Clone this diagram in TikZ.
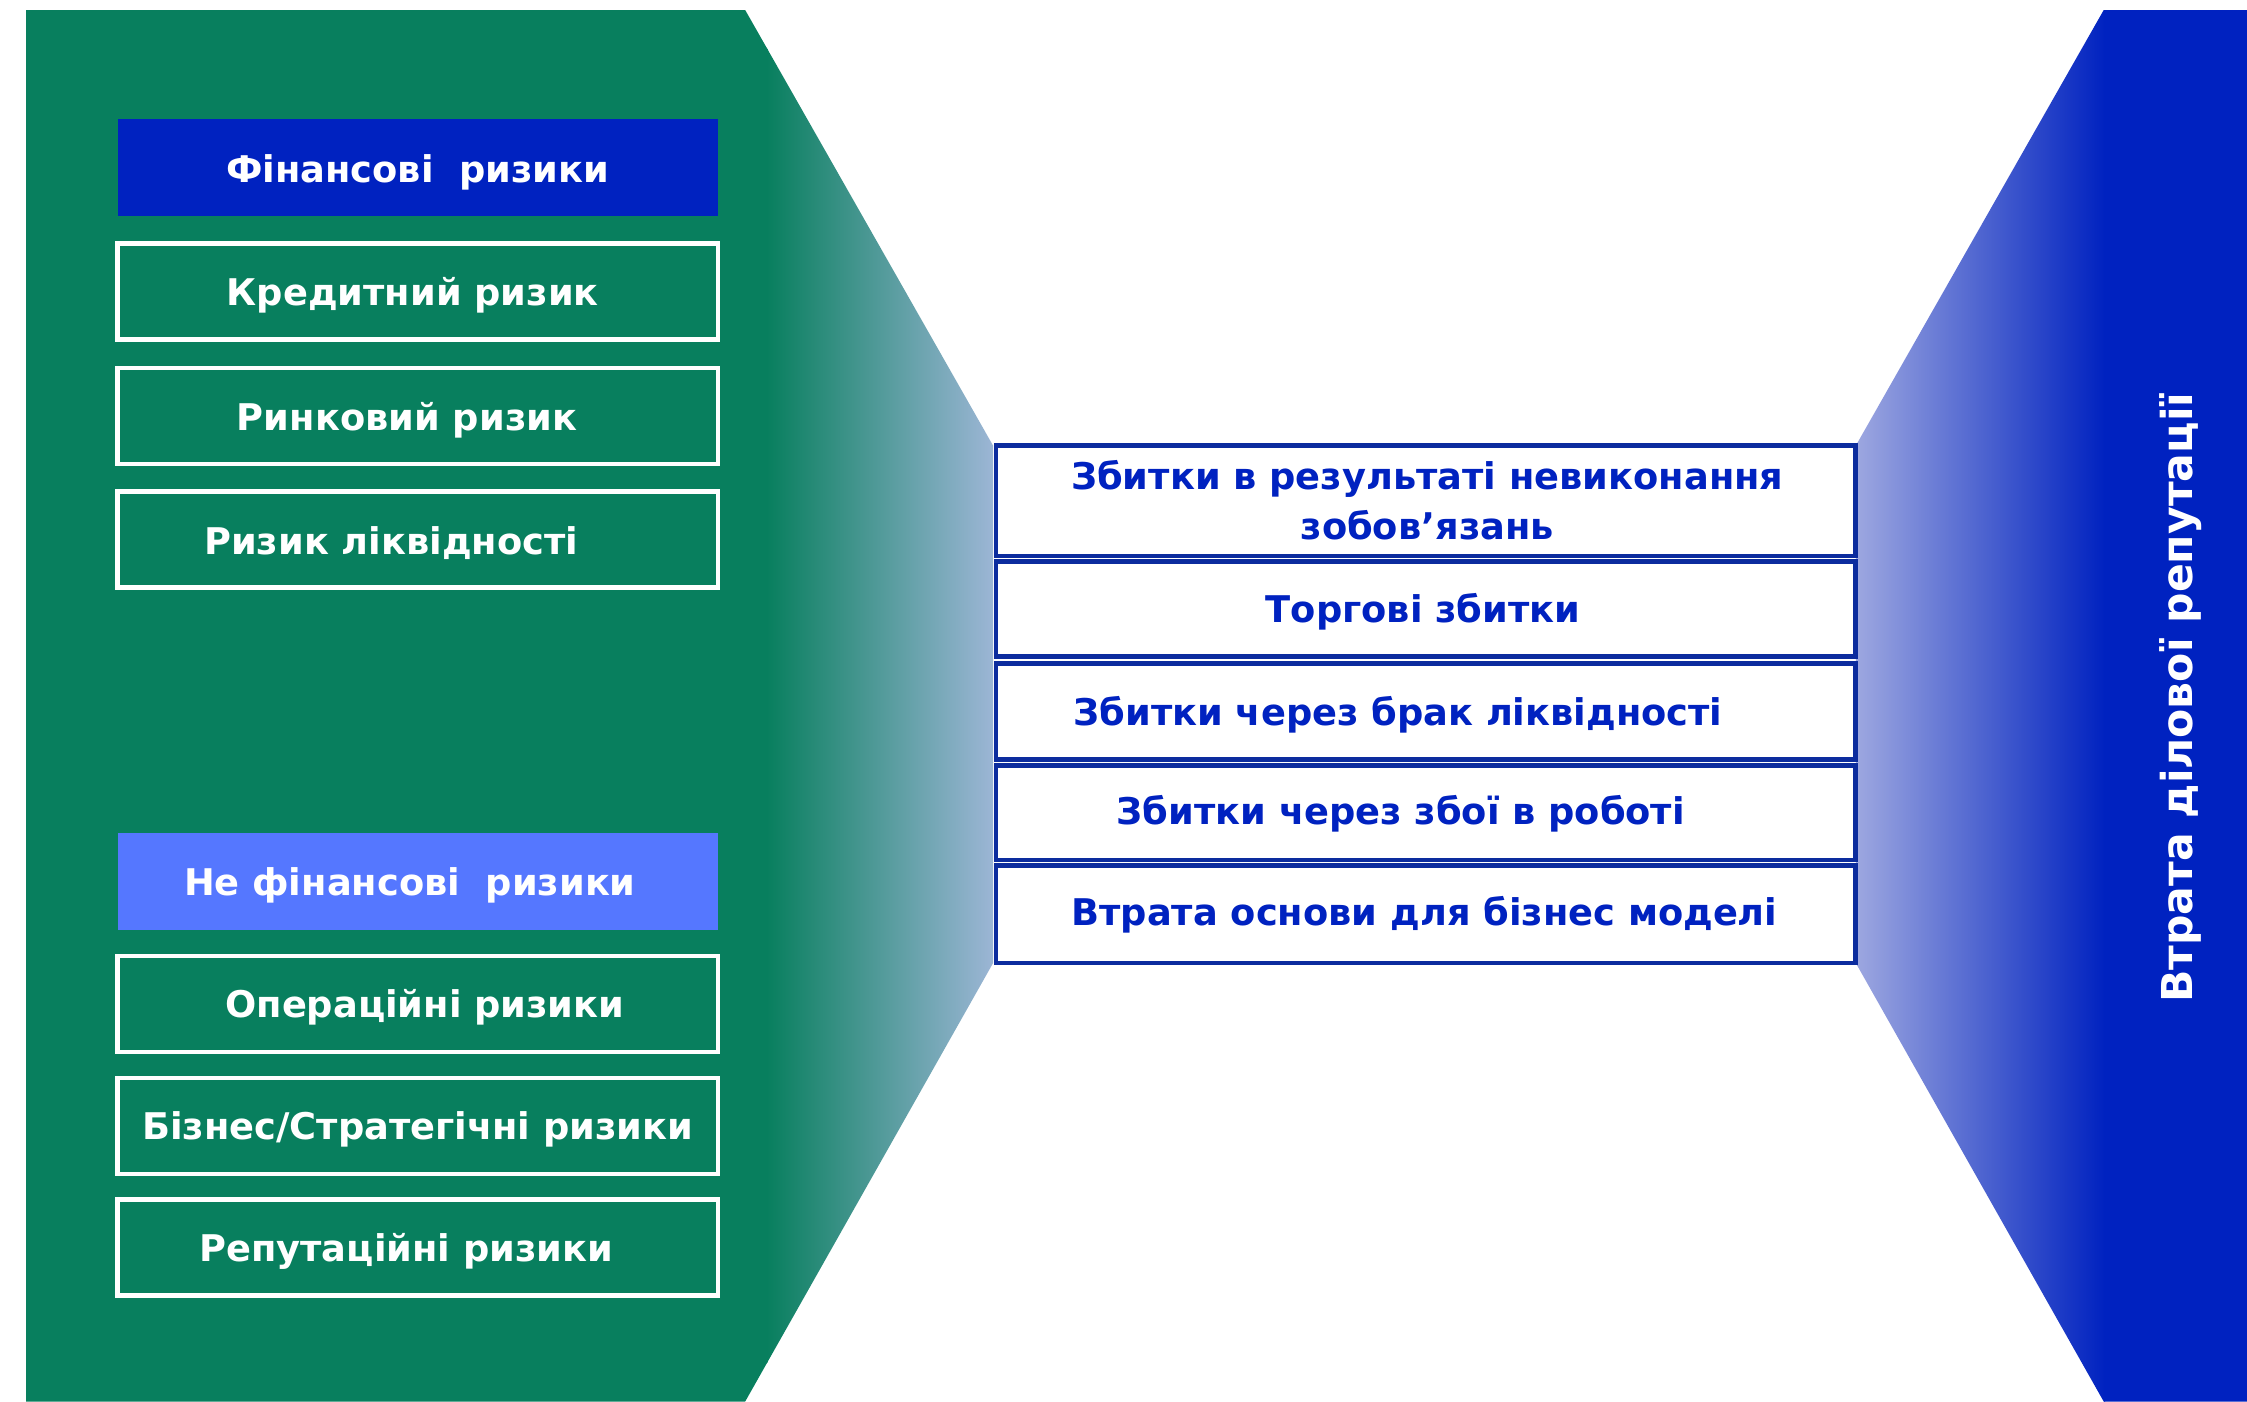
\documentclass[tikz,border=0pt]{standalone}
\usepackage{fontspec}
\setmainfont{DejaVu Sans}
\usetikzlibrary{positioning}
\definecolor{riskgreen}{RGB}{8,127,94}
\definecolor{riskblue}{RGB}{0,34,192}
\definecolor{risklight}{RGB}{85,119,255}
\definecolor{fadegreen}{RGB}{157,182,214}
\definecolor{fadeblue}{RGB}{158,168,224}
\definecolor{boxline}{RGB}{12,44,158}
\tikzset{
  lbox/.style={draw=white, line width=0.6mm, minimum width=83.8mm, minimum height=13.4mm, inner sep=0pt},
  hbox/.style={fill=#1, minimum width=83.8mm, minimum height=13.6mm, inner sep=0pt},
  mbox/.style={draw=boxline, fill=white, line width=0.65mm, minimum width=120mm, inner sep=0pt},
  ltxt/.style={text=white, font=\bfseries\fontsize{14.6}{20}\selectfont, inner sep=0pt},
  mtxt/.style={text=riskblue, font=\bfseries\fontsize{14.6}{20}\selectfont, inner sep=0pt, align=center}
}
\begin{document}
\begin{tikzpicture}[x=0.2mm,y=-0.2mm]
\useasboundingbox (0,0) rectangle (1568,978);
\fill[white] (0,0) rectangle (1568,978);
% left panel
\begin{scope}
\clip (18,7) -- (520,7) -- (693,311) -- (693,672) -- (520,978) -- (18,978) -- cycle;
\fill[riskgreen] (18,7) rectangle (536,978);
\shade[left color=riskgreen, right color=fadegreen] (535,7) rectangle (694,978);
\end{scope}
% right panel
\begin{scope}
\clip (1295,311) -- (1468,7) -- (1568,7) -- (1568,978) -- (1468,978) -- (1295,672) -- cycle;
\shade[left color=fadeblue, right color=riskblue] (1294,7) rectangle (1469,978);
\fill[riskblue] (1468,7) rectangle (1568,978);
\end{scope}
% financial risks
\node[hbox=riskblue] (fin) at (291.5,117) {};
\node[ltxt] (finT) at (291.5,120) {Фінансові~ ризики};
\node[lbox] (kred) at (291.5,203.5) {};
\node[ltxt] (kredT) at (288,206) {Кредитний ризик};
\node[lbox] (rynk) at (291.5,290.5) {};
\node[ltxt] (rynkT) at (284,293) {Ринковий ризик};
\node[lbox] (likv) at (291.5,376.5) {};
\node[ltxt] (likvT) at (273,379) {Ризик ліквідності};
% non-financial risks
\node[hbox=risklight] (nefin) at (291.5,615) {};
\node[ltxt] (nefinT) at (286,618) {Не фінансові~ ризики};
\node[lbox] (oper) at (291.5,700.5) {};
\node[ltxt] (operT) at (296.5,703) {Операційні ризики};
\node[lbox] (biz) at (291.5,785.5) {};
\node[ltxt] (bizT) at (291.5,788) {Бізнес/Стратегічні ризики};
\node[lbox] (rep) at (291.5,870.5) {};
\node[ltxt] (repT) at (283.5,873) {Репутаційні ризики};
% losses
\node[mbox, minimum height=15.4mm] (nevyk) at (995,349.5) {};
\node[mtxt] (nevykT) at (996,349) {Збитки в результаті невиконання\\зобов’язань};
\node[mbox, minimum height=13.2mm] (torg) at (995,425) {};
\node[mtxt] (torgT) at (993,427) {Торгові збитки};
\node[mbox, minimum height=13.4mm] (brak) at (995,496.5) {};
\node[mtxt] (brakT) at (975.5,499) {Збитки через брак ліквідності};
\node[mbox, minimum height=13.2mm] (zboi) at (995,567) {};
\node[mtxt] (zboiT) at (977.5,568) {Збитки через збої в роботі};
\node[mbox, minimum height=13.6mm] (osnova) at (995,638) {};
\node[mtxt] (osnovaT) at (994,638) {Втрата основи для бізнес моделі};
% reputation
\node[ltxt, font=\bfseries\fontsize{16.9}{20}\selectfont, rotate=90] (vtrata) at (1522,487) {Втрата ділової репутації};
\end{tikzpicture}
\end{document}
